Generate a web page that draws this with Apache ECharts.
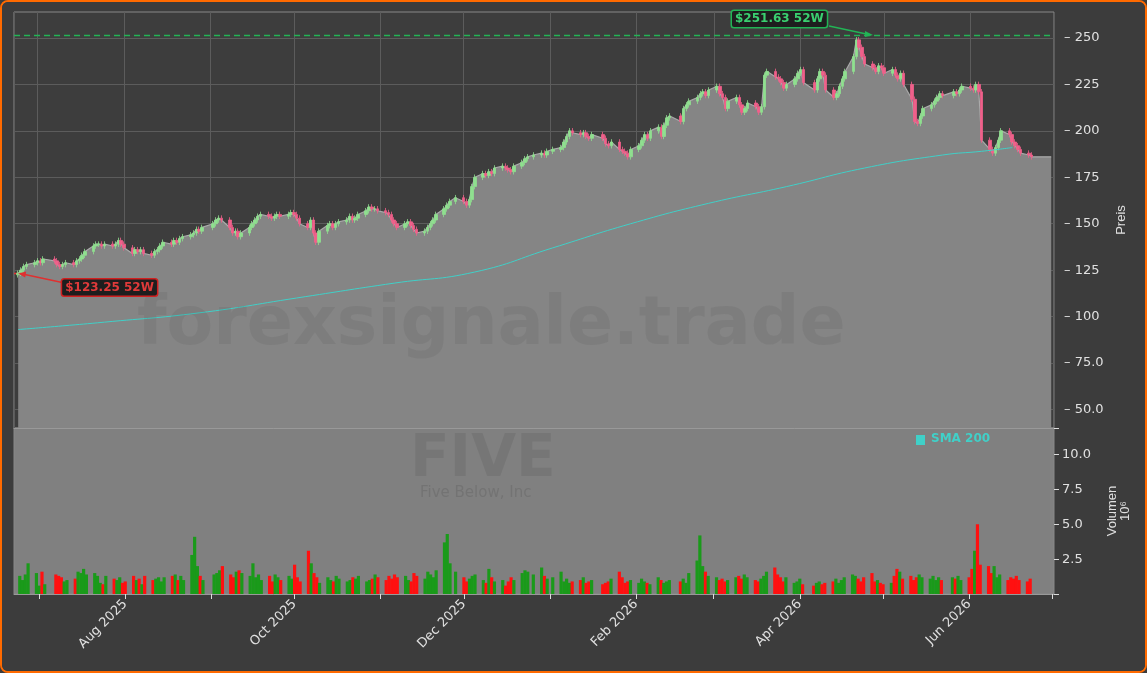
<!DOCTYPE html>
<html><head><meta charset="utf-8">
<script src="https://cdn.jsdelivr.net/npm/echarts@6/dist/echarts.min.js"></script>
<style>
html,body{margin:0;padding:0;background:#3c3c3c;}
#wrap{position:absolute;left:0;top:0;width:1143px;height:669px;border:2px solid #ff6a00;border-radius:8px;background:#3c3c3c;overflow:hidden;}
#c{width:1143px;height:669px;}
</style></head><body><div id="wrap"><div id="c"></div></div>
<script>
const closes = [
123.3,125,127,128,129, 130,129,131,130,128, 127,128,129,128,130, 131,133,135,138,139,
139,138,139,138,139, 141,139,137,134,136, 135,136,134,133,135, 136,138,140,139,141,
140,142,143,144,145, 147,146,148,150,152, 153,152,148,145,146, 143,145,148,150,152,
154,155,154,153,154, 155,154,155,156,155, 153,150,148,152,145, 140,146,149,150,148,
150,151,152,154,152, 153,155,157,159,158, 158,157,156,155,152, 150,148,150,151,149,
147,145,146,148,150, 152,155,158,160,162, 164,162,160,163,170, 175,177,176,178,177,
180,181,180,179,178, 181,183,185,186,187, 188,187,189,190,191, 194,197,200,199,198,
199,197,196,198,196, 193,192,194,190,189, 188,186,190,192,195, 198,196,200,202,197,
203,207,208,205,212, 214,216,218,220,221, 219,222,224,220,218, 212,216,218,214,210,
212,215,213,210,213, 230,232,229,228,226, 223,225,228,231,233, 226,222,228,232,230,
222,218,220,224,228, 232,240,249,245,240, 236,234,232,235,234, 231,233,230,228,231,
225,217,205,204,208, 212,214,216,218,220, 219,221,220,222,224, 223,222,225,221,195,
190,188,191,195,200, 198,194,192,190,188, 187,186];
const volumes = [
1.3,1.0,1.4,2.2,1.5,0.6,1.6,0.7,1.4,1.3, 1.2,0.9,1.0,1.1,1.6,1.5,1.8,1.4,1.5,1.3,
0.8,0.7,1.3,1.1,1.0,1.2,0.8,0.9,1.3,1.0, 1.1,0.7,1.3,1.0,1.1,1.2,0.9,1.2,1.3,1.4,
1.0,1.3,1.0,2.8,4.1,2.0,1.3,1.0,1.4,1.5, 1.7,2.0,1.4,1.2,1.6,1.7,1.5,1.3,2.2,1.2,
1.4,1.0,1.3,0.9,1.4,1.2,1.0,1.3,1.1,2.1, 1.2,0.9,3.1,2.2,1.5,1.2,0.8,1.2,1.0,0.9,
1.3,1.1,0.9,1.0,1.2,1.1,1.3,0.9,1.0,1.1, 1.4,1.2,1.0,1.3,1.1,1.4,1.2,1.3,1.0,0.9,
1.5,1.3,1.1,1.6,1.4,1.2,1.7,3.7,4.3,2.2, 1.6,1.2,0.9,1.1,1.3,1.4,1.0,0.8,1.8,1.2,
0.9,1.0,0.6,0.9,1.2,1.0,1.5,1.7,1.6,1.4, 1.9,1.3,1.1,1.2,1.6,0.9,1.1,0.8,0.9,1.0,
1.2,0.8,0.9,1.0,0.7,0.8,0.9,1.1,1.6,1.2, 0.8,0.9,1.0,0.8,1.1,0.9,0.8,0.7,1.2,1.0,
0.8,0.9,1.0,0.9,1.1,0.8,1.5,2.4,4.2,2.0, 1.6,1.3,1.2,1.0,1.1,0.9,1.0,1.2,1.3,1.1,
1.4,1.2,1.0,0.9,1.1,1.3,1.6,1.9,1.4,1.2, 0.9,1.2,0.8,0.9,1.1,0.7,0.6,0.8,0.9,0.7,
0.8,0.9,1.1,0.8,1.0,1.2,1.4,1.3,1.1,0.9, 1.2,1.5,0.9,1.0,0.8,0.7,0.8,1.3,1.8,1.6,
1.1,1.3,1.0,1.2,1.4,1.2,1.1,1.3,1.0,1.2, 1.0,1.2,1.1,1.3,1.0,1.2,1.8,3.1,5.0,2.1,
2.0,1.5,2.0,1.2,1.4,1.0,1.2,1.1,1.3,1.0, 0.9,1.1];
const smaDates = ['2025-06-24','2025-07-10','2025-07-25','2025-08-28','2025-10-02','2025-11-06','2025-12-05','2026-01-02','2026-01-30','2026-02-27','2026-03-27','2026-04-24','2026-05-22','2026-06-05','2026-06-16'];
const smaValues = [93,95,97,102,110,118,124,137,150,161,170,180,187,189,191];
const low52 = 123.25, high52 = 251.63;
const priceTicks = [50,75,100,125,150,175,200,225,250];
const volTicks = [2.5,5.0,7.5,10.0];
const holidays = ['2025-07-04','2025-09-01','2025-11-27','2025-12-25','2026-01-01','2026-01-19','2026-02-16','2026-04-03','2026-05-25'];

function fmt(d){return d.toISOString().slice(0,10);}
const dates=[]; let d=new Date(Date.UTC(2025,5,24));
while(dates.length<closes.length){const w=d.getUTCDay(); const s=fmt(d); if(w>0&&w<6&&!holidays.includes(s)) dates.push(s); d=new Date(d.getTime()+86400000);}
const opens = closes.map((c,i)=> i===0?122.5:closes[i-1]);
const candles = dates.map((t,i)=>[t,opens[i],closes[i],Math.min(opens[i],closes[i])-1.5,Math.max(opens[i],closes[i])+1.5]);
const areaData = dates.map((t,i)=>[t,closes[i]]).concat([['2026-06-30',closes[closes.length-1]]]);
const volData = dates.map((t,i)=>({value:[t,volumes[i]],itemStyle:{color:closes[i]>=opens[i]?'#1a9a1a':'#ff1010'}}));
const smaData = smaDates.map((t,i)=>[t,smaValues[i]]);
const months=['Jan','Feb','Mar','Apr','May','Jun','Jul','Aug','Sep','Oct','Nov','Dec'];

const xCommon = {type:'time',min:'2025-06-22 12:00',max:'2026-07-01',minInterval:28*86400000,maxInterval:31*86400000,
  splitLine:{show:true,lineStyle:{color:'#5c5c5c'}},axisLine:{lineStyle:{color:'#999'}}};
const chart = echarts.init(document.getElementById('c'));
const baseGraphic = [
    {id:'wm1',type:'text',zlevel:1,left:135,top:290,z:50,silent:true,style:{text:'forexsignale.trade',fontSize:68,fontWeight:'bold',fill:'rgba(60,60,60,0.1)',fontFamily:'DejaVu Sans'}},
    {id:'wm2',type:'text',zlevel:1,left:408,top:430,z:50,style:{text:'FIVE',fontSize:58,fontWeight:'bold',fill:'rgba(100,100,100,0.35)',fontFamily:'DejaVu Sans'}},
    {id:'wm3',type:'text',zlevel:1,left:418,top:484,z:50,style:{text:'Five Below, Inc',fontSize:15,fill:'rgba(100,100,100,0.45)',fontFamily:'DejaVu Sans'}},
    {id:'lg1',type:'rect',zlevel:1,left:914,top:433,z:50,shape:{width:9,height:10},style:{fill:'#40d0c8'}},
    {id:'lg2',type:'text',zlevel:1,left:929,top:431,z:50,style:{text:'SMA 200',fontSize:12,fontWeight:'bold',fill:'#40d0c8',fontFamily:'DejaVu Sans'}}
];
chart.setOption({
  animation:false, backgroundColor:'#3c3c3c',
  grid:[{left:12,right:91,top:10,height:416,show:true,backgroundColor:'#3d3d3d',borderColor:'#888'},
        {left:12,right:91,top:426,height:166,show:true,backgroundColor:'#808080',borderColor:'#888'}],
  xAxis:[Object.assign({},xCommon,{gridIndex:0,axisLabel:{show:false},axisTick:{show:false}}),
         Object.assign({},xCommon,{gridIndex:1,splitLine:{show:false},axisTick:{show:true,lineStyle:{color:'#ddd'}},
           axisLabel:{color:'#e0e0e0',fontSize:13,rotate:45,fontFamily:'DejaVu Sans',hideOverlap:false,
             formatter:v=>{const dt=new Date(v);const m=dt.getUTCMonth();return (m%2===1&&dt.getUTCDate()===1)?months[m]+' '+dt.getUTCFullYear():'';}}})],
  yAxis:[{gridIndex:0,position:'right',min:40,max:264,interval:5,
          splitLine:{show:false},axisLine:{show:false},axisTick:{show:false},
          axisLabel:{color:'#e0e0e0',fontSize:13,fontFamily:'DejaVu Sans',margin:10,
            formatter:v=>priceTicks.includes(v)?(v<100?'– '+v.toFixed(1):'– '+v):''},
          name:'Preis',nameLocation:'middle',nameRotate:90,nameGap:46,nameTextStyle:{color:'#e0e0e0',fontSize:13}},
         {gridIndex:1,position:'right',min:0,max:11.9,interval:2.5,
          splitLine:{show:false},axisLine:{show:false},axisTick:{show:true,lineStyle:{color:'#ddd'}},
          axisLabel:{color:'#e0e0e0',fontSize:13,fontFamily:'DejaVu Sans',formatter:v=>volTicks.includes(v)?v.toFixed(1):''},
          name:'Volumen\n10⁶',nameLocation:'middle',nameRotate:90,nameGap:52,nameTextStyle:{color:'#e0e0e0',fontSize:13}}],
  series:[
    {type:'line',xAxisIndex:0,yAxisIndex:0,data:[],symbol:'none',z:0,
     markLine:{symbol:'none',silent:true,label:{show:false},lineStyle:{color:'#5c5c5c',type:'solid',width:1},
       data:priceTicks.map(v=>({yAxis:v}))}},
    {type:'line',zlevel:1,xAxisIndex:0,yAxisIndex:0,data:areaData,symbol:'none',lineStyle:{color:'#aaaaaa',width:1.2},
     areaStyle:{color:'#858585',opacity:1,origin:'start'},z:2,
     markLine:{symbol:'none',silent:true,label:{show:false},
       data:[{yAxis:low52,lineStyle:{color:'#e03030',type:[6,4],width:1.3}},{yAxis:high52,lineStyle:{color:'#22b455',type:[6,4],width:1.3}}]}},
    {type:'candlestick',zlevel:1,xAxisIndex:0,yAxisIndex:0,data:candles,barWidth:3,z:3,
     itemStyle:{color:'#8fe08f',color0:'#f0608a',borderColor:'#8fe08f',borderColor0:'#f0608a',borderWidth:0.8}},
    {type:'line',zlevel:1,xAxisIndex:0,yAxisIndex:0,data:smaData,symbol:'none',smooth:true,lineStyle:{color:'#40d0c8',width:1},z:4},
    {type:'bar',zlevel:1,xAxisIndex:1,yAxisIndex:1,data:volData,barWidth:3.2}
  ],
  graphic:baseGraphic
});
const pLow = chart.convertToPixel({xAxisIndex:0,yAxisIndex:0},[dates[0],low52]);
const pHigh = chart.convertToPixel({xAxisIndex:0,yAxisIndex:0},['2026-04-27',high52]);
chart.setOption({graphic:baseGraphic.concat([
  {id:'a1',type:'line',zlevel:1,z:60,shape:{x1:pLow[0]+44,y1:pLow[1]+9,x2:pLow[0]+2,y2:pLow[1]},style:{stroke:'#e03030',lineWidth:1.5}},
  {id:'a2',type:'polygon',zlevel:1,z:60,shape:{points:[[pLow[0],pLow[1]],[pLow[0]+8,pLow[1]-2],[pLow[0]+7,pLow[1]+4]]},style:{fill:'#e03030'}},
  {id:'a3',type:'text',zlevel:1,z:60,x:pLow[0]+44,y:pLow[1]+6,style:{text:'$123.25 52W',fontSize:12,fontWeight:'bold',fill:'#e03a3a',fontFamily:'DejaVu Sans',
     backgroundColor:'#1e1e1e',borderColor:'#d02020',borderWidth:1.5,borderRadius:2,padding:[2,3]}},
  {id:'a4',type:'line',zlevel:1,z:60,shape:{x1:pHigh[0]-44,y1:pHigh[1]-9,x2:pHigh[0]-2,y2:pHigh[1]},style:{stroke:'#22b455',lineWidth:1.5}},
  {id:'a5',type:'polygon',zlevel:1,z:60,shape:{points:[[pHigh[0],pHigh[1]],[pHigh[0]-8,pHigh[1]-4],[pHigh[0]-8,pHigh[1]+2]]},style:{fill:'#22b455'}},
  {id:'a6',type:'text',zlevel:1,z:60,x:pHigh[0]-141,y:pHigh[1]-24,style:{text:'$251.63 52W',fontSize:12,fontWeight:'bold',fill:'#3ad070',fontFamily:'DejaVu Sans',
     backgroundColor:'#1e1e1e',borderColor:'#22b455',borderWidth:1.5,borderRadius:2,padding:[2,3]}}
])});
</script></body></html>
